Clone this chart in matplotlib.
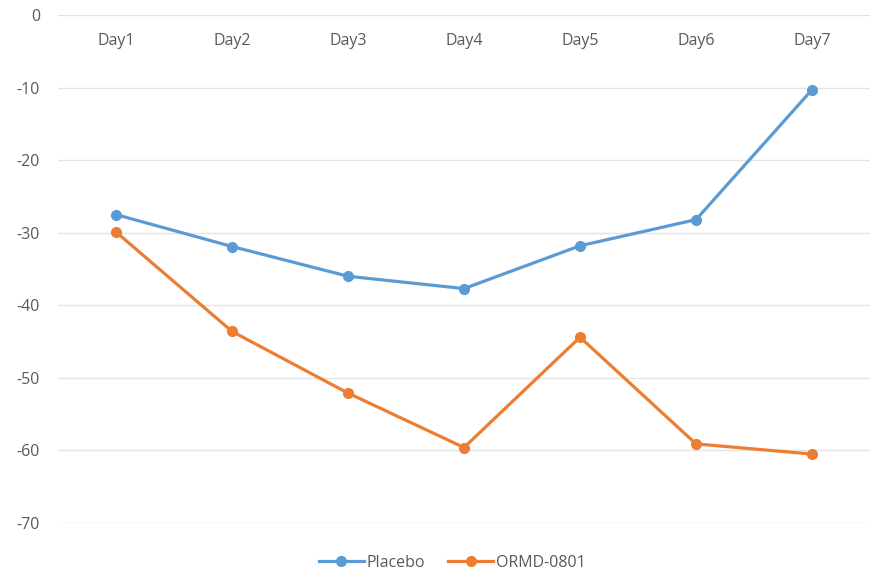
import matplotlib
matplotlib.use("Agg")
import matplotlib.pyplot as plt

days = ["Day1", "Day2", "Day3", "Day4", "Day5", "Day6", "Day7"]
placebo = [-27.5, -31.9, -36.0, -37.7, -31.8, -28.2, -10.3]
ormd = [-29.9, -43.6, -52.1, -59.6, -44.4, -59.1, -60.5]
yticks = [0, -10, -20, -30, -40, -50, -60, -70]

plt.rcParams['font.family'] = ['Open Sans', 'DejaVu Sans']
W, H = 877, 574
fig = plt.figure(figsize=(W/100, H/100), dpi=100)
ax = fig.add_axes([58/W, 1-523/H, (870-58)/W, (523-15)/H])

x = list(range(len(days)))
ax.plot(x, placebo, color='#5B9BD5', lw=2.3, marker='o', ms=7, label='Placebo')
ax.plot(x, ormd, color='#ED7D31', lw=2.3, marker='o', ms=7, label='ORMD-0801')

ax.set_xlim(-0.5, len(days)-0.5)
ax.set_ylim(-70, 0)
ax.set_yticks(yticks)
ax.set_yticklabels([str(v) for v in yticks])
ax.grid(axis='y', color='#E3E3E3', lw=1)
ax.set_axisbelow(True)
for s in ax.spines.values():
    s.set_visible(False)

ax.set_xticks(x)
ax.set_xticklabels(days)
ax.tick_params(axis='x', top=False, bottom=False, labeltop=True, labelbottom=False, length=0, pad=-13)
for t in ax.get_xticklabels():
    t.set_va('top')
ax.tick_params(axis='y', length=0, pad=13)
for t in ax.get_yticklabels():
    t.set_ha('right')
ax.tick_params(colors='#595959', labelsize=11.5)

fig.legend(loc='center', bbox_to_anchor=(452.5/W, 1-563/H), ncol=2, frameon=False,
           fontsize=11.5, labelcolor='#595959', handlelength=2.8, columnspacing=1.45, handletextpad=0.2)

fig.savefig('out.png', dpi=100)
